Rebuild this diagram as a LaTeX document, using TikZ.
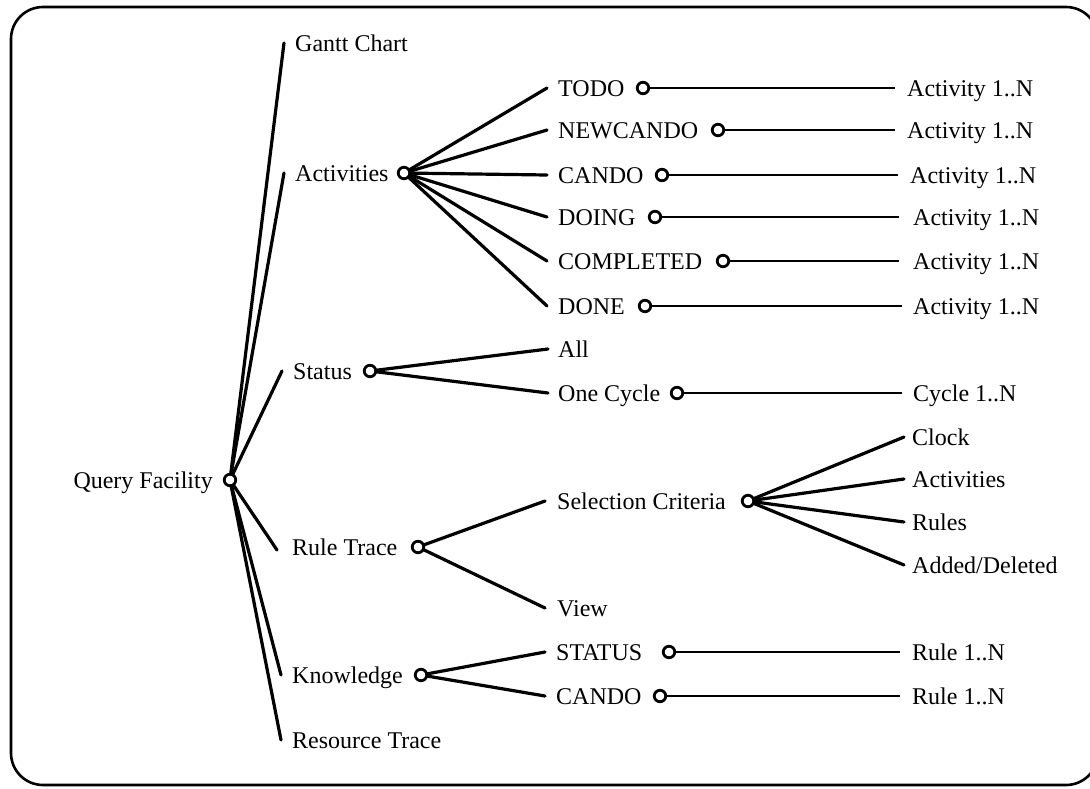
\documentclass[tikz,border=0pt]{standalone}
\usepackage{fontspec}
\setmainfont{Liberation Serif}
\begin{document}
\begin{tikzpicture}[x=1pt,y=-1pt,
  lbl/.style={font=\fontsize{24}{24}\selectfont, inner sep=0pt, text height=16pt, text depth=0pt, anchor=west},
  dot/.style={circle, draw, line width=2.8pt, fill=white, minimum size=11.5pt, inner sep=0pt},
  br/.style={line width=3.2pt, line cap=round},
  hl/.style={line width=2.4pt}]
\useasboundingbox (0,0) rectangle (1090,788);
\clip (0,0) rectangle (1090,788);
\draw[line width=2.6pt, rounded corners=32pt] (11,7) rectangle (1098,785);

% root
\node[lbl, anchor=east] (qf) at (213,480) {Query Facility};
\coordinate (qfc) at (230,480);

% level 1
\node[lbl] (gantt) at (295,43) {Gantt Chart};
\node[lbl] (act) at (295,173) {Activities};
\coordinate (actc) at (404,173);
\node[lbl] (status) at (293,371) {Status};
\coordinate (statc) at (370,371);
\node[lbl] (rule) at (292,547) {Rule Trace};
\coordinate (rulec) at (418,547);
\node[lbl] (know) at (292,675) {Knowledge};
\coordinate (knowc) at (421,675);
\node[lbl] (res) at (292,740) {Resource Trace};

% activities children
\node[lbl] (todo) at (558,88) {TODO};
\coordinate (todoc) at (643,88);
\node[lbl] (newcando) at (558,130) {NEWCANDO};
\coordinate (newcandoc) at (718,130);
\node[lbl] (cando) at (558,175) {CANDO};
\coordinate (candoc) at (662,175);
\node[lbl] (doing) at (558,217) {DOING};
\coordinate (doingc) at (655,217);
\node[lbl] (completed) at (558,261) {COMPLETED};
\coordinate (completedc) at (723,261);
\node[lbl] (done) at (558,306) {DONE};
\coordinate (donec) at (645,306);

\node[lbl] (a1) at (907,88) {Activity 1..N};
\node[lbl] (a2) at (907,130) {Activity 1..N};
\node[lbl] (a3) at (910,175) {Activity 1..N};
\node[lbl] (a4) at (913,217) {Activity 1..N};
\node[lbl] (a5) at (913,261) {Activity 1..N};
\node[lbl] (a6) at (913,306) {Activity 1..N};

% status children
\node[lbl] (all) at (558,349) {All};
\node[lbl] (onecycle) at (558,393) {One Cycle};
\coordinate (onecyclec) at (677,393);
\node[lbl] (cycle) at (913,393) {Cycle 1..N};

% rule trace children
\node[lbl] (selcrit) at (557,501) {Selection Criteria};
\coordinate (selcritc) at (748,501);
\node[lbl] (view) at (557,608) {View};
\node[lbl] (clock) at (912,437) {Clock};
\node[lbl] (sact) at (912,479) {Activities};
\node[lbl] (rules) at (912,522) {Rules};
\node[lbl] (added) at (912,565) {Added/Deleted};

% knowledge children
\node[lbl] (kstatus) at (556,652) {STATUS};
\coordinate (kstatusc) at (669,652);
\node[lbl] (kcando) at (556,696) {CANDO};
\coordinate (kcandoc) at (660,696);
\node[lbl] (r1) at (912,652) {Rule 1..N};
\node[lbl] (r2) at (912,696) {Rule 1..N};

% connectors level 1
\foreach \n in {gantt,act,status,know,res}
  \draw[br] (qfc) -- ([xshift=-11pt]\n.west);
\draw[br] (qfc) -- ([xshift=-15pt,yshift=-3pt]rule.west);

% activities
\foreach \n in {todo,newcando,cando,doing,completed,done}
  \draw[br] (actc) -- ([xshift=-11pt]\n.west);
\draw[hl] (todoc) -- ([xshift=-12pt]a1.west);
\draw[hl] (newcandoc) -- ([xshift=-12pt]a2.west);
\draw[hl] (candoc) -- ([xshift=-12pt]a3.west);
\draw[hl] (doingc) -- ([xshift=-14pt]a4.west);
\draw[hl] (completedc) -- ([xshift=-14pt]a5.west);
\draw[hl] (donec) -- ([xshift=-11pt]a6.west);

% status
\foreach \n in {all,onecycle}
  \draw[br] (statc) -- ([xshift=-10pt]\n.west);
\draw[hl] (onecyclec) -- ([xshift=-11pt]cycle.west);

% rule trace
\foreach \n in {selcrit,view}
  \draw[br] (rulec) -- ([xshift=-12pt]\n.west);
\foreach \n in {clock,sact,rules,added}
  \draw[br] (selcritc) -- ([xshift=-8pt]\n.west);

% knowledge
\foreach \n in {kstatus,kcando}
  \draw[br] (knowc) -- ([xshift=-11pt]\n.west);
\draw[hl] (kstatusc) -- ([xshift=-12pt]r1.west);
\draw[hl] (kcandoc) -- ([xshift=-12pt]r2.west);

% circles
\foreach \c in {qfc,actc,statc,rulec,knowc,todoc,newcandoc,candoc,doingc,completedc,donec,onecyclec,selcritc,kstatusc,kcandoc}
  \node[dot] at (\c) {};
\end{tikzpicture}
\end{document}
